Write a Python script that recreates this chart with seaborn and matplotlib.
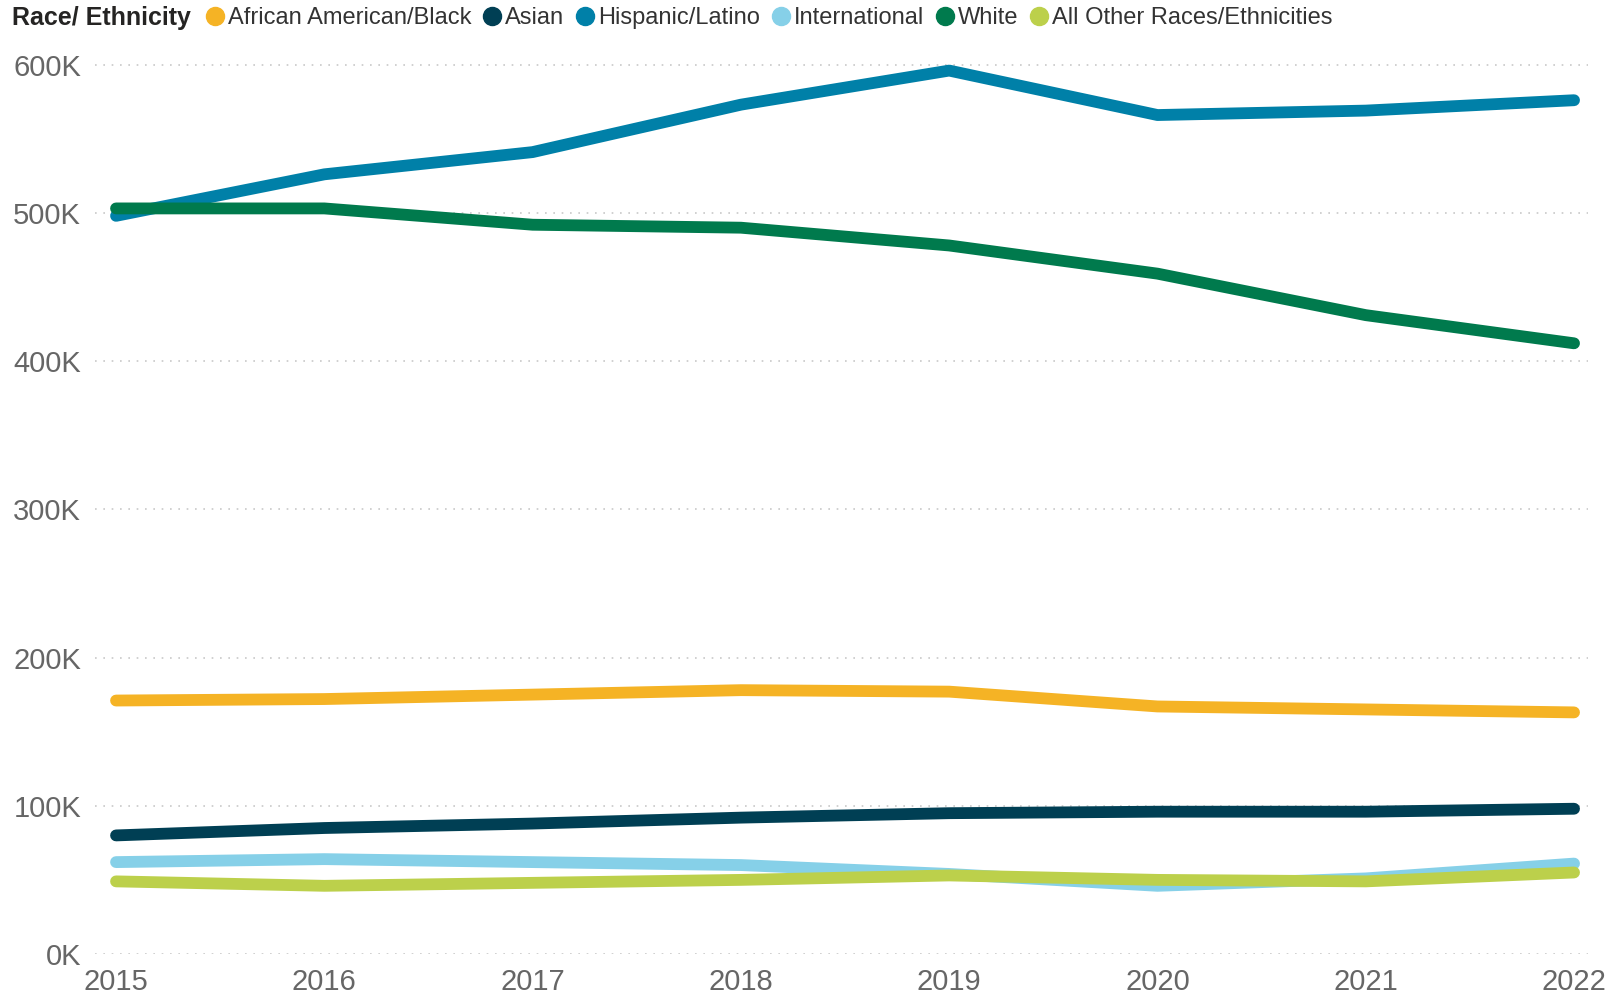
import matplotlib
matplotlib.use("Agg")
import matplotlib.pyplot as plt
from matplotlib.lines import Line2D
from matplotlib.ticker import FuncFormatter
import pandas as pd
import seaborn as sns

years = [2015, 2016, 2017, 2018, 2019, 2020, 2021, 2022]
groups = ["African American/Black", "Asian", "Hispanic/Latino",
          "International", "White", "All Other Races/Ethnicities"]

african_american = [171000, 172000, 175000, 178000, 177000, 167000, 165000, 163000]
asian = [80000, 85000, 88000, 92000, 95000, 96000, 96000, 98000]
hispanic = [498000, 526000, 541000, 573000, 596000, 566000, 569000, 576000]
international = [62000, 64000, 62000, 60000, 54000, 46000, 51000, 61000]
white = [503000, 503000, 492000, 490000, 478000, 459000, 431000, 412000]
other = [49000, 46000, 48000, 50000, 53000, 50000, 49000, 55000]

colors = ["#F5B325", "#003F54", "#0080A8", "#86D0E8", "#007A4D", "#BCD04B"]

series = [african_american, asian, hispanic, international, white, other]
rows = []
for g, vals in zip(groups, series):
    for y, v in zip(years, vals):
        rows.append({"year": y, "group": g, "value": v})
df = pd.DataFrame(rows)

sns.set_theme(style="white")
plt.rcParams["font.family"] = ["Liberation Sans", "DejaVu Sans"]

fig = plt.figure(figsize=(16.12, 10.01), dpi=100)
ax = fig.add_axes([95 / 1612, 47 / 1001, 1493 / 1612, 919 / 1001])

sns.lineplot(data=df, x="year", y="value", hue="group", hue_order=groups,
             palette=colors, linewidth=8.5, legend=False, ax=ax,
             solid_capstyle="round", clip_on=False)

ax.set_xlim(2014.899, 2022.067)
ax.set_ylim(0, 620000)
ax.set_xticks(years)
ax.set_yticks(range(0, 600001, 100000))
ax.yaxis.set_major_formatter(FuncFormatter(lambda v, p: f"{int(v / 1000)}K"))
ax.grid(axis="y", color="#c8c8c8", linestyle=(0, (1, 4)), linewidth=1.2)
ax.set_axisbelow(True)
for s in ax.spines.values():
    s.set_visible(False)
ax.tick_params(axis="both", length=0, labelsize=21, labelcolor="#666666")
ax.tick_params(axis="y", pad=10)
ax.tick_params(axis="x", pad=10)
ax.set_xlabel("")
ax.set_ylabel("")

fig.text(12 / 1612, 1 - 18 / 1001, "Race/ Ethnicity", fontsize=18,
         fontweight="bold", color="#252423", va="center", ha="left")
handles = [Line2D([], [], marker="o", linestyle="", markersize=13,
                  markerfacecolor=c, markeredgecolor=c) for c in colors]
fig.legend(handles, groups, loc="center left", ncol=6, frameon=False,
           bbox_to_anchor=(203 / 1612, 1 - 18 / 1001), fontsize=17,
           handletextpad=0.05, columnspacing=0.38, handlelength=1.0,
           borderpad=0, borderaxespad=0, labelcolor="#333333")

fig.savefig("out.png", dpi=100)
